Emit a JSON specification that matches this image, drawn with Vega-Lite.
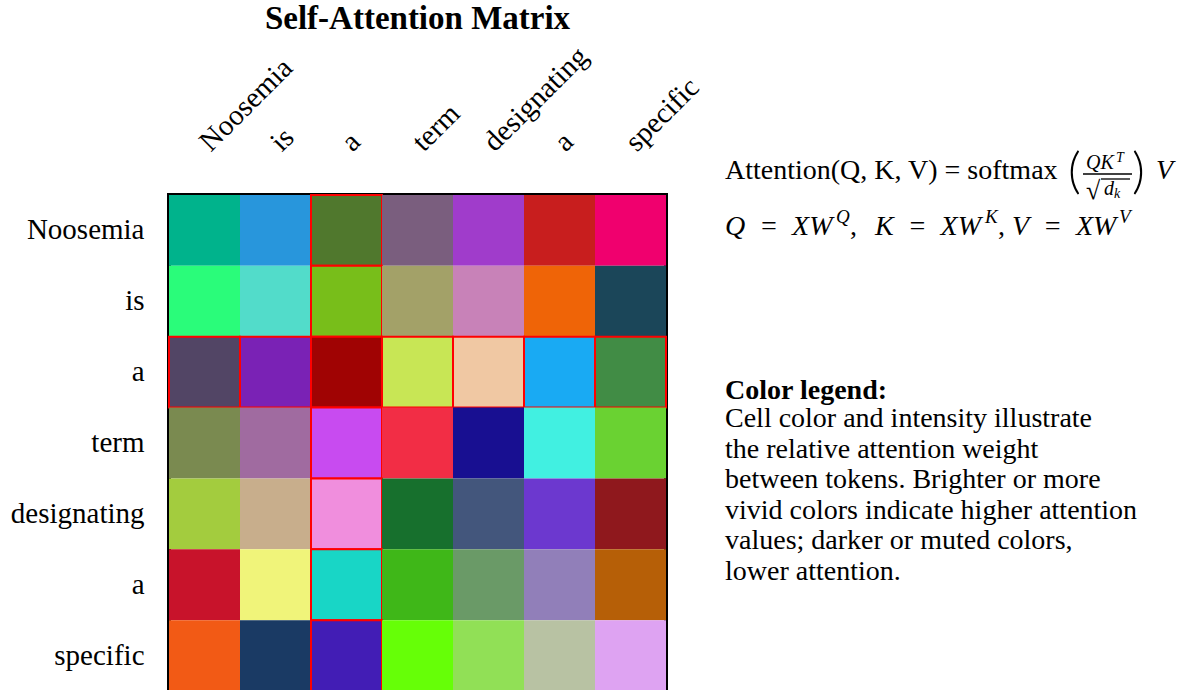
{
  "$schema": "https://vega.github.io/schema/vega-lite/v6.json",
  "background": "white",
  "padding": {"left": 8, "top": 0, "right": 0, "bottom": 0},
  "spacing": 13,
  "config": {"font": "Liberation Serif", "view": {"stroke": null}},
  "datasets": {
    "cells": [
      {"row": 0, "col": 0, "color": "#00B38C"}, {"row": 0, "col": 1, "color": "#2896DC"}, {"row": 0, "col": 2, "color": "#50782D"}, {"row": 0, "col": 3, "color": "#7A5E7E"}, {"row": 0, "col": 4, "color": "#A03CCB"}, {"row": 0, "col": 5, "color": "#C81E1E"}, {"row": 0, "col": 6, "color": "#F0006E"},
      {"row": 1, "col": 0, "color": "#2AFC7A"}, {"row": 1, "col": 1, "color": "#52DCCA"}, {"row": 1, "col": 2, "color": "#78BE1A"}, {"row": 1, "col": 3, "color": "#A3A168"}, {"row": 1, "col": 4, "color": "#C882B8"}, {"row": 1, "col": 5, "color": "#EF6407"}, {"row": 1, "col": 6, "color": "#1B4659"},
      {"row": 2, "col": 0, "color": "#524565"}, {"row": 2, "col": 1, "color": "#7A22B5"}, {"row": 2, "col": 2, "color": "#A00303"}, {"row": 2, "col": 3, "color": "#C8E655"}, {"row": 2, "col": 4, "color": "#F0C8A3"}, {"row": 2, "col": 5, "color": "#19AAF3"}, {"row": 2, "col": 6, "color": "#418C45"},
      {"row": 3, "col": 0, "color": "#7A8A50"}, {"row": 3, "col": 1, "color": "#A06BA0"}, {"row": 3, "col": 2, "color": "#C84BF0"}, {"row": 3, "col": 3, "color": "#F22D45"}, {"row": 3, "col": 4, "color": "#180F91"}, {"row": 3, "col": 5, "color": "#41F0E1"}, {"row": 3, "col": 6, "color": "#6AD232"},
      {"row": 4, "col": 0, "color": "#A3CC3E"}, {"row": 4, "col": 1, "color": "#C8AE8C"}, {"row": 4, "col": 2, "color": "#F08EDD"}, {"row": 4, "col": 3, "color": "#17702D"}, {"row": 4, "col": 4, "color": "#43567C"}, {"row": 4, "col": 5, "color": "#6C38CF"}, {"row": 4, "col": 6, "color": "#8F181D"},
      {"row": 5, "col": 0, "color": "#C8132B"}, {"row": 5, "col": 1, "color": "#F0F47A"}, {"row": 5, "col": 2, "color": "#18D6C6"}, {"row": 5, "col": 3, "color": "#3FB718"}, {"row": 5, "col": 4, "color": "#6A9A67"}, {"row": 5, "col": 5, "color": "#917FB9"}, {"row": 5, "col": 6, "color": "#B65F07"},
      {"row": 6, "col": 0, "color": "#F25A15"}, {"row": 6, "col": 1, "color": "#1A3A64"}, {"row": 6, "col": 2, "color": "#421DB5"}, {"row": 6, "col": 3, "color": "#66FF07"}, {"row": 6, "col": 4, "color": "#91E056"}, {"row": 6, "col": 5, "color": "#B8C2A3"}, {"row": 6, "col": 6, "color": "#DEA3F2"}
    ],
    "notes": [
      {"part": "body", "x": 5, "y": -16, "text": "Attention(Q, K, V) = softmax"},
      {"part": "body", "x": 130, "y": 40, "text": ","},
      {"part": "body", "x": 278, "y": 40, "text": ","},
      {"part": "math", "x": 436, "y": -16, "text": "V"},
      {"part": "math", "x": 5, "y": 40, "text": "Q\u2002=\u2002XW"},
      {"part": "math", "x": 155, "y": 40, "text": "K\u2002=\u2002XW"},
      {"part": "math", "x": 292, "y": 40, "text": "V\u2002=\u2002XW"},
      {"part": "big", "x": 348, "y": -7, "text": "("},
      {"part": "big", "x": 412, "y": -7, "text": ")"},
      {"part": "small", "x": 366, "y": -26, "text": "QK"},
      {"part": "small", "x": 384, "y": 0, "text": "d"},
      {"part": "script", "x": 396, "y": -33, "text": "T"},
      {"part": "script", "x": 394, "y": 3, "text": "k"},
      {"part": "sup", "x": 116, "y": 28, "text": "Q"},
      {"part": "sup", "x": 265, "y": 28, "text": "K"},
      {"part": "sup", "x": 399, "y": 28, "text": "V"},
      {"part": "radical", "x": 366, "y": 4, "text": "√"},
      {"part": "heading", "x": 5, "y": 204, "text": "Color legend:"},
      {"part": "paragraph", "x": 5, "y": 232, "text": "Cell color and intensity illustrate\nthe relative attention weight\nbetween tokens. Brighter or more\nvivid colors indicate higher attention\nvalues; darker or muted colors,\nlower attention."}
    ],
    "bars": [
      {"x": 363, "x2": 412, "y": -21},
      {"x": 381, "x2": 410, "y": -16}
    ]
  },
  "hconcat": [
    {
      "width": 497,
      "height": 496,
      "view": {"stroke": "black", "strokeWidth": 4},
      "title": {"text": "Self-Attention Matrix", "fontSize": 33, "fontWeight": "bold", "font": "Liberation Serif", "color": "black", "anchor": "middle", "frame": "group", "offset": 6},
      "data": {"name": "cells"},
      "mark": {"type": "rect", "strokeWidth": 2},
      "encoding": {
        "x": {"field": "col", "type": "ordinal", "scale": {"paddingInner": 0, "paddingOuter": 0},
          "axis": {"orient": "top", "title": null, "ticks": false, "domain": false, "labelAngle": -45, "labelAlign": "left", "labelBaseline": "middle", "labelPadding": 49, "labelFontSize": 29, "labelColor": "black", "labelFont": "Liberation Serif",
            "labelExpr": "['Noosemia','is','a','term','designating','a','specific'][datum.value]"}},
        "y": {"field": "row", "type": "ordinal", "scale": {"paddingInner": 0, "paddingOuter": 0},
          "axis": {"title": null, "ticks": false, "domain": false, "labelPadding": 25, "labelFontSize": 29, "labelColor": "black", "labelFont": "Liberation Serif",
            "labelExpr": "['Noosemia','is','a','term','designating','a','specific'][datum.value]"}},
        "fill": {"field": "color", "type": "nominal", "scale": null, "legend": null},
        "stroke": {"condition": {"test": "datum.row == 2 || datum.col == 2", "value": "#FF0000"}, "value": "transparent"}
      }
    },
    {
      "width": 470,
      "height": 496,
      "view": {"fill": "white", "stroke": null},
      "layer": [
        {
          "data": {"name": "bars"},
          "mark": {"type": "rule", "color": "black", "strokeWidth": 1.3},
          "encoding": {
            "x": {"field": "x", "type": "quantitative", "scale": {"domain": [0, 470], "nice": false, "zero": false}, "axis": null},
            "x2": {"field": "x2"},
            "y": {"field": "y", "type": "quantitative", "scale": {"domain": [0, 496], "nice": false, "zero": false, "reverse": true}, "axis": null}
          }
        },
        {
          "data": {"name": "notes"},
          "transform": [{"filter": "datum.part == 'body'"}],
          "mark": {"type": "text", "align": "left", "baseline": "alphabetic", "fontSize": 28, "color": "black"},
          "encoding": {"x": {"field": "x", "type": "quantitative"}, "y": {"field": "y", "type": "quantitative"}, "text": {"field": "text"}}
        },
        {
          "data": {"name": "notes"},
          "transform": [{"filter": "datum.part == 'math'"}],
          "mark": {"type": "text", "align": "left", "baseline": "alphabetic", "fontSize": 28, "fontStyle": "italic", "color": "black"},
          "encoding": {"x": {"field": "x", "type": "quantitative"}, "y": {"field": "y", "type": "quantitative"}, "text": {"field": "text"}}
        },
        {
          "data": {"name": "notes"},
          "transform": [{"filter": "datum.part == 'big'"}],
          "mark": {"type": "text", "align": "left", "baseline": "alphabetic", "fontSize": 50, "font": "Lato", "fontWeight": 300, "color": "black"},
          "encoding": {"x": {"field": "x", "type": "quantitative"}, "y": {"field": "y", "type": "quantitative"}, "text": {"field": "text"}}
        },
        {
          "data": {"name": "notes"},
          "transform": [{"filter": "datum.part == 'small'"}],
          "mark": {"type": "text", "align": "left", "baseline": "alphabetic", "fontSize": 20, "fontStyle": "italic", "color": "black"},
          "encoding": {"x": {"field": "x", "type": "quantitative"}, "y": {"field": "y", "type": "quantitative"}, "text": {"field": "text"}}
        },
        {
          "data": {"name": "notes"},
          "transform": [{"filter": "datum.part == 'script' || datum.part == 'sup'"}],
          "mark": {"type": "text", "align": "left", "baseline": "alphabetic", "fontSize": 17, "fontStyle": "italic", "color": "black"},
          "encoding": {"x": {"field": "x", "type": "quantitative"}, "y": {"field": "y", "type": "quantitative"}, "text": {"field": "text"}, "size": {"condition": {"test": "datum.part == 'script'", "value": 14}, "value": 19}}
        },
        {
          "data": {"name": "notes"},
          "transform": [{"filter": "datum.part == 'radical'"}],
          "mark": {"type": "text", "align": "left", "baseline": "alphabetic", "fontSize": 26, "color": "black"},
          "encoding": {"x": {"field": "x", "type": "quantitative"}, "y": {"field": "y", "type": "quantitative"}, "text": {"field": "text"}}
        },
        {
          "data": {"name": "notes"},
          "transform": [{"filter": "datum.part == 'heading'"}],
          "mark": {"type": "text", "align": "left", "baseline": "alphabetic", "fontSize": 28, "fontWeight": "bold", "color": "black"},
          "encoding": {"x": {"field": "x", "type": "quantitative"}, "y": {"field": "y", "type": "quantitative"}, "text": {"field": "text"}}
        },
        {
          "data": {"name": "notes"},
          "transform": [{"filter": "datum.part == 'paragraph'"}],
          "mark": {"type": "text", "align": "left", "baseline": "alphabetic", "fontSize": 28, "lineBreak": "\n", "lineHeight": 30.5, "color": "black"},
          "encoding": {"x": {"field": "x", "type": "quantitative"}, "y": {"field": "y", "type": "quantitative"}, "text": {"field": "text"}}
        }
      ]
    }
  ]
}
